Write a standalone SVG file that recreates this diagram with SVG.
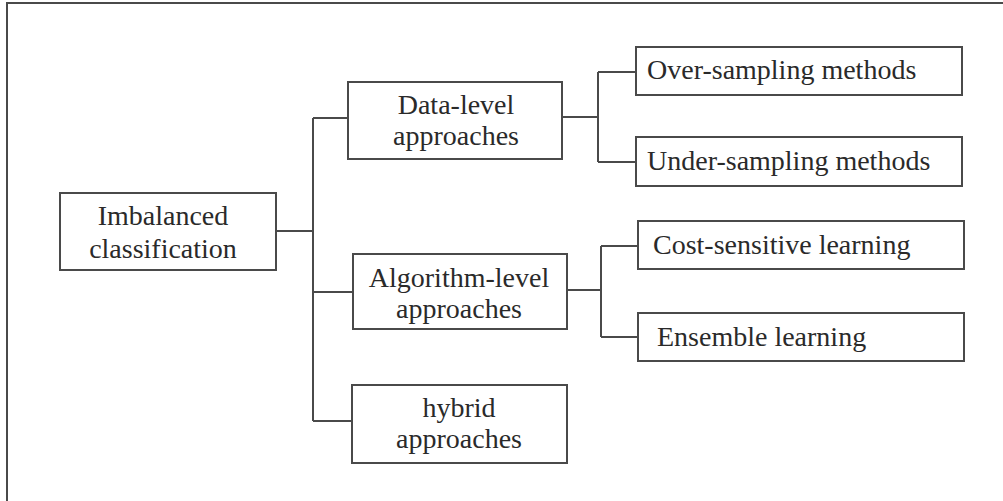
<svg xmlns="http://www.w3.org/2000/svg" width="1003" height="501" viewBox="0 0 1003 501">
<style>
.box{fill:#fff;stroke:#4a4a4a;stroke-width:2}
.ln{fill:none;stroke:#4a4a4a;stroke-width:2}
text{font-family:"Liberation Serif","Times New Roman",serif;font-size:28px;fill:#2a2a2a}
.c{text-anchor:middle}
</style>
<rect width="1003" height="501" fill="#fff"/>
<path class="ln" d="M7,501 V3 H1003" stroke="#666" stroke-width="2.5"/>
<g id="connectors">
<path class="ln" d="M276,231 H313 M313,118 V421 M313,118 H348 M313,292 H353 M313,421 H352"/>
<path class="ln" d="M562,117 H598 M598,72 V162 M598,72 H636 M598,162 H636"/>
<path class="ln" d="M567,290 H601 M601,246 V337 M601,246 H638 M601,337 H638"/>
</g>
<g id="imbalanced">
<rect class="box" x="60" y="193" width="216" height="77"/>
<text class="c" x="163" y="225">Imbalanced</text>
<text class="c" x="163" y="258">classification</text>
</g>
<g id="data-level">
<rect class="box" x="348" y="82" width="214" height="77"/>
<text class="c" x="456" y="114">Data-level</text>
<text class="c" x="456" y="145">approaches</text>
</g>
<g id="algorithm-level">
<rect class="box" x="353" y="254" width="214" height="75"/>
<text class="c" x="459" y="287">Algorithm-level</text>
<text class="c" x="459" y="318">approaches</text>
</g>
<g id="hybrid">
<rect class="box" x="352" y="385" width="215" height="78"/>
<text class="c" x="459" y="417">hybrid</text>
<text class="c" x="459" y="448">approaches</text>
</g>
<g id="over-sampling">
<rect class="box" x="636" y="47" width="326" height="48"/>
<text x="647" y="79">Over-sampling methods</text>
</g>
<g id="under-sampling">
<rect class="box" x="636" y="137" width="326" height="49"/>
<text x="647" y="170">Under-sampling methods</text>
</g>
<g id="cost-sensitive">
<rect class="box" x="638" y="221" width="326" height="48"/>
<text x="653" y="254">Cost-sensitive learning</text>
</g>
<g id="ensemble">
<rect class="box" x="638" y="313" width="326" height="48"/>
<text x="657" y="346">Ensemble learning</text>
</g>
</svg>
